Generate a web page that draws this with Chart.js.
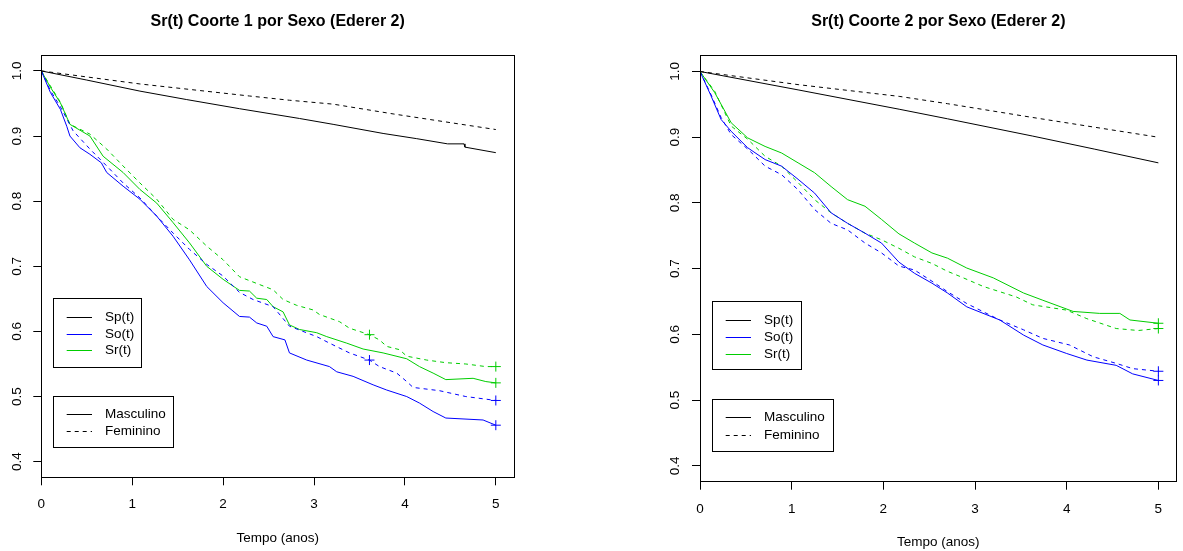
<!DOCTYPE html>
<html><head><meta charset="utf-8">
<script src="https://cdn.jsdelivr.net/npm/chart.js@4.4.1/dist/chart.umd.min.js"></script>
<style>
html,body{margin:0;padding:0;background:#fff;width:1183px;height:551px;overflow:hidden}
canvas{position:absolute;top:0}
</style></head>
<body>
<canvas id="c1" width="590" height="551" style="left:0px"></canvas>
<canvas id="c2" width="593" height="551" style="left:590px"></canvas>
<script>
// ---------- text ----------
const titles = ['Sr(t) Coorte 1 por Sexo (Ederer 2)', 'Sr(t) Coorte 2 por Sexo (Ederer 2)'];
const xTitle = 'Tempo (anos)';
const xTicks = [0, 1, 2, 3, 4, 5];
const yTicks = [0.4, 0.5, 0.6, 0.7, 0.8, 0.9, 1.0];
const legendCurves = ['Sp(t)', 'So(t)', 'Sr(t)'];
const legendSexo = ['Masculino', 'Feminino'];

// ---------- Coorte 1 ----------
const t1SpM = [0, 0.5, 1.085, 1.6, 2.18, 2.84, 3.21, 3.76, 4.13, 4.47, 4.65, 4.66, 5];
const v1SpM = [1, 0.986, 0.969, 0.956, 0.942, 0.927, 0.918, 0.904, 0.896, 0.888, 0.888, 0.883, 0.8745];
const t1SpF = [0, 1.085, 2.29, 2.73, 3.21, 3.87, 4.67, 5];
const v1SpF = [1, 0.98, 0.9615, 0.955, 0.949, 0.934, 0.917, 0.91];
const t1SoM = [0, 0.1, 0.21, 0.28, 0.315, 0.425, 0.535, 0.66, 0.72, 0.90, 1.085, 1.27, 1.45, 1.63, 1.82, 2.0, 2.18, 2.29, 2.37, 2.48, 2.55, 2.68, 2.73, 2.92, 3.17, 3.25, 3.43, 3.65, 3.80, 4.02, 4.16, 4.31, 4.45, 4.86, 5.0];
const v1SoM = [1, 0.967, 0.941, 0.915, 0.90, 0.882, 0.872, 0.859, 0.844, 0.823, 0.803, 0.777, 0.746, 0.71, 0.669, 0.644, 0.623, 0.622, 0.613, 0.608, 0.592, 0.587, 0.567, 0.556, 0.546, 0.538, 0.531, 0.518, 0.510, 0.50, 0.49, 0.477, 0.467, 0.464, 0.456];
const t1SoF = [0, 0.1, 0.21, 0.35, 0.535, 0.72, 0.90, 1.085, 1.27, 1.45, 1.63, 1.82, 2.0, 2.18, 2.33, 2.55, 2.73, 3.03, 3.17, 3.39, 3.61, 3.72, 3.91, 4.02, 4.09, 4.38, 4.67, 5.0];
const v1SoF = [1, 0.97, 0.945, 0.908, 0.880, 0.854, 0.828, 0.805, 0.777, 0.751, 0.726, 0.703, 0.685, 0.66, 0.649, 0.638, 0.608, 0.592, 0.582, 0.567, 0.556, 0.546, 0.536, 0.523, 0.514, 0.509, 0.50, 0.494];
const t1SrM = [0, 0.1, 0.21, 0.315, 0.535, 0.68, 0.90, 1.085, 1.27, 1.45, 1.63, 1.82, 2.0, 2.18, 2.29, 2.37, 2.48, 2.55, 2.66, 2.73, 2.84, 3.03, 3.14, 3.36, 3.54, 3.76, 4.02, 4.16, 4.31, 4.45, 4.75, 4.89, 5.0];
const v1SrM = [1, 0.975, 0.951, 0.918, 0.90, 0.869, 0.844, 0.818, 0.797, 0.767, 0.736, 0.70, 0.68, 0.663, 0.662, 0.651, 0.649, 0.638, 0.630, 0.610, 0.603, 0.598, 0.592, 0.582, 0.573, 0.567, 0.558, 0.546, 0.536, 0.526, 0.528, 0.523, 0.521];
const t1SrF = [0, 0.1, 0.21, 0.315, 0.535, 0.72, 0.90, 1.085, 1.27, 1.45, 1.63, 1.82, 2.0, 2.18, 2.40, 2.55, 2.66, 2.81, 2.99, 3.06, 3.28, 3.39, 3.61, 3.72, 3.80, 3.94, 4.02, 4.24, 4.45, 4.67, 4.89, 5.0];
const v1SrF = [1, 0.977, 0.952, 0.918, 0.903, 0.88, 0.854, 0.828, 0.803, 0.772, 0.756, 0.731, 0.71, 0.684, 0.672, 0.664, 0.649, 0.64, 0.633, 0.626, 0.615, 0.605, 0.595, 0.587, 0.577, 0.572, 0.562, 0.556, 0.552, 0.55, 0.546, 0.546];
// censoring marks (+)
const c1SoMt = [5.0], c1SoMv = [0.456];
const c1SoFt = [3.61, 5.0], c1SoFv = [0.556, 0.494];
const c1SrMt = [5.0], c1SrMv = [0.521];
const c1SrFt = [3.61, 5.0], c1SrFv = [0.595, 0.546];

// ---------- Coorte 2 ----------
const t2SpM = [0, 1.07, 2.18, 2.70, 3.63, 4.3, 5];
const v2SpM = [1, 0.972, 0.9424, 0.928, 0.9017, 0.882, 0.861];
const t2SpF = [0, 1.07, 2.18, 2.70, 3.63, 5];
const v2SpF = [1, 0.98, 0.962, 0.951, 0.93, 0.90];
const t2SoM = [0, 0.12, 0.23, 0.34, 0.52, 0.71, 0.89, 1.07, 1.25, 1.43, 1.61, 1.80, 1.98, 2.17, 2.34, 2.53, 2.70, 2.91, 3.27, 3.53, 3.74, 4.0, 4.22, 4.54, 4.72, 5.0];
const v2SoM = [1, 0.963, 0.927, 0.909, 0.884, 0.866, 0.856, 0.836, 0.815, 0.785, 0.769, 0.754, 0.739, 0.71, 0.693, 0.678, 0.663, 0.642, 0.622, 0.599, 0.584, 0.571, 0.561, 0.553, 0.540, 0.530];
const t2SoF = [0, 0.12, 0.23, 0.34, 0.52, 0.58, 0.71, 0.89, 1.07, 1.25, 1.43, 1.61, 1.80, 1.98, 2.17, 2.34, 2.53, 2.70, 2.91, 3.27, 3.53, 3.74, 4.03, 4.29, 4.54, 4.72, 5.0];
const v2SoF = [1, 0.965, 0.93, 0.904, 0.882, 0.874, 0.856, 0.843, 0.820, 0.79, 0.769, 0.759, 0.739, 0.724, 0.704, 0.698, 0.681, 0.665, 0.647, 0.622, 0.607, 0.594, 0.584, 0.566, 0.556, 0.548, 0.544];
const t2SrM = [0, 0.16, 0.34, 0.52, 0.71, 0.89, 1.07, 1.25, 1.43, 1.61, 1.80, 1.98, 2.17, 2.34, 2.53, 2.70, 2.91, 3.20, 3.53, 3.74, 4.07, 4.36, 4.58, 4.69, 5.0];
const v2SrM = [1, 0.968, 0.922, 0.899, 0.886, 0.876, 0.861, 0.846, 0.825, 0.805, 0.795, 0.775, 0.753, 0.739, 0.724, 0.716, 0.701, 0.686, 0.663, 0.652, 0.635, 0.632, 0.632, 0.622, 0.617];
const t2SrF = [0, 0.16, 0.34, 0.52, 0.71, 0.89, 1.07, 1.25, 1.43, 1.61, 1.80, 1.98, 2.17, 2.34, 2.53, 2.70, 2.84, 3.09, 3.45, 3.63, 4.0, 4.22, 4.54, 4.78, 5.0];
const v2SrF = [1, 0.97, 0.917, 0.897, 0.871, 0.856, 0.831, 0.805, 0.785, 0.769, 0.754, 0.744, 0.731, 0.718, 0.708, 0.696, 0.688, 0.673, 0.657, 0.645, 0.637, 0.624, 0.609, 0.606, 0.609];
const c2SoMt = [5.0], c2SoMv = [0.530];
const c2SoFt = [5.0], c2SoFv = [0.544];
const c2SrMt = [5.0], c2SrMv = [0.617];
const c2SrFt = [5.0], c2SrFv = [0.609];

// ---------- styling ----------
const FONT = '"Liberation Sans", Arial, sans-serif';
const BLACK = '#000000', BLUE = '#0000FF', GREEN = '#00CD00';
const curveColors = [BLACK, BLUE, GREEN];
const DASH = [4, 4];
Chart.defaults.font.family = FONT;
Chart.defaults.color = '#000';

function pts(t, v) { return t.map((x, i) => ({ x: x, y: v[i] })); }
function lineDs(label, t, v, color, dashed) {
  return { label, data: pts(t, v), borderColor: color, borderWidth: 1, borderDash: dashed ? DASH : [],
    pointRadius: 0, fill: false, tension: 0 };
}
function censDs(t, v, color) {
  return { label: 'cens', data: pts(t, v), borderColor: color, backgroundColor: color, borderWidth: 1,
    showLine: false, pointStyle: 'cross', pointRadius: 5, pointHoverRadius: 5 };
}

const framePlugin = {
  id: 'rframe',
  afterDraw(chart) {
    const { ctx, chartArea: a } = chart;
    const al = p => Math.round(p - 0.5) + 0.5;
    ctx.save();
    ctx.strokeStyle = '#000'; ctx.lineWidth = 1; ctx.setLineDash([]);
    const l = al(a.left), r = al(a.right), t = al(a.top), b = al(a.bottom);
    ctx.strokeRect(l, t, r - l, b - t);
    // R-style legends
    const L = chart.options.plugins.rlegend;
    ctx.font = '13.5px ' + FONT;
    ctx.textBaseline = 'middle'; ctx.textAlign = 'left';
    L.boxes.forEach(bx => {
      ctx.fillStyle = '#fff';
      ctx.fillRect(bx.x, bx.y, bx.w, bx.h);
      ctx.strokeStyle = '#000'; ctx.lineWidth = 1; ctx.setLineDash([]);
      ctx.strokeRect(al(bx.x), al(bx.y), Math.round(bx.w), Math.round(bx.h));
      bx.items.forEach((it, i) => {
        const y = bx.rows[i];
        ctx.strokeStyle = it.color; ctx.setLineDash(it.dash ? DASH : []);
        ctx.beginPath(); ctx.moveTo(bx.lx1, al(y)); ctx.lineTo(bx.lx2, al(y)); ctx.stroke();
        ctx.setLineDash([]);
        ctx.fillStyle = '#000';
        ctx.fillText(it.text, bx.tx, y);
      });
    });
    ctx.restore();
  }
};

function makeChart(id, cfg) {
  return new Chart(document.getElementById(id), {
    type: 'line',
    data: { datasets: cfg.datasets },
    options: {
      responsive: false, animation: false, devicePixelRatio: 1,
      layout: { padding: cfg.pad },
      plugins: {
        legend: { display: false }, tooltip: { enabled: false },
        title: { display: true, text: cfg.title, fullSize: false, color: '#000',
          font: { family: FONT, size: 16, weight: 'bold' }, padding: cfg.titlePad },
        rlegend: { boxes: cfg.legend }
      },
      scales: {
        x: { type: 'linear', min: 0, max: 5.2,
          afterBuildTicks: s => { s.ticks = xTicks.map(v => ({ value: v })); },
          afterFit: s => { s.height = cfg.xh; },
          border: { display: false },
          grid: { display: true, drawOnChartArea: false, drawTicks: true, tickLength: 8, color: '#000', lineWidth: 1 },
          ticks: { color: '#000', font: { size: 13.5 }, padding: cfg.xtp, maxRotation: 0, minRotation: 0,
            callback: v => String(v) },
          title: { display: true, text: xTitle, color: '#000', font: { size: 13.5 }, padding: { top: 0, bottom: cfg.xtitlePad } }
        },
        y: { type: 'linear', min: 0.376, max: 1.024,
          afterBuildTicks: s => { s.ticks = yTicks.map(v => ({ value: v })); },
          afterFit: s => { s.width = cfg.yw; },
          border: { display: false },
          grid: { display: true, drawOnChartArea: false, drawTicks: true, tickLength: 8, color: '#000', lineWidth: 1 },
          ticks: { color: '#000', font: { size: 13.5 }, padding: 7, minRotation: 90, maxRotation: 90, crossAlign: 'center',
            callback: v => Number(v).toFixed(1) }
        }
      }
    },
    plugins: [framePlugin]
  });
}

function legendBoxes(x, y1, w1, h1, rows1, y2, w2, h2, rows2, lx1, lx2, tx) {
  return [
    { x, y: y1, w: w1, h: h1, rows: rows1, lx1, lx2, tx,
      items: legendCurves.map((s, i) => ({ text: s, color: curveColors[i], dash: false })) },
    { x, y: y2, w: w2, h: h2, rows: rows2, lx1, lx2, tx,
      items: legendSexo.map((s, i) => ({ text: s, color: BLACK, dash: i === 1 })) }
  ];
}

makeChart('c1', {
  title: titles[0],
  pad: { left: 0, right: 76, top: 0, bottom: 0 },
  titlePad: { top: 11.6, bottom: 24.5 },
  yw: 41.3, xh: 73.7, xtp: 10.6, xtitlePad: 4.6,
  legend: legendBoxes(53.3, 298.3, 88, 68.7, [317.7, 334, 350.3], 396.3, 120, 51, [414.3, 431.7], 66.7, 92, 105),
  datasets: [
    lineDs('Sp M', t1SpM, v1SpM, BLACK, false),
    lineDs('Sp F', t1SpF, v1SpF, BLACK, true),
    lineDs('So M', t1SoM, v1SoM, BLUE, false),
    lineDs('So F', t1SoF, v1SoF, BLUE, true),
    lineDs('Sr M', t1SrM, v1SrM, GREEN, false),
    lineDs('Sr F', t1SrF, v1SrF, GREEN, true),
    censDs(c1SoMt, c1SoMv, BLUE), censDs(c1SoFt, c1SoFv, BLUE),
    censDs(c1SrMt, c1SrMv, GREEN), censDs(c1SrFt, c1SrFv, GREEN)
  ]
});

makeChart('c2', {
  title: titles[1],
  pad: { left: 69, right: 6.3, top: 0, bottom: 0 },
  titlePad: { top: 11.6, bottom: 24.9 },
  yw: 41, xh: 69.3, xtp: 11.2, xtitlePad: 0.6,
  legend: legendBoxes(122.3, 301.7, 88.7, 68.3, [320.7, 337.3, 354], 399.3, 121, 52.4, [417.7, 435.3], 135.7, 161, 174),
  datasets: [
    lineDs('Sp M', t2SpM, v2SpM, BLACK, false),
    lineDs('Sp F', t2SpF, v2SpF, BLACK, true),
    lineDs('So M', t2SoM, v2SoM, BLUE, false),
    lineDs('So F', t2SoF, v2SoF, BLUE, true),
    lineDs('Sr M', t2SrM, v2SrM, GREEN, false),
    lineDs('Sr F', t2SrF, v2SrF, GREEN, true),
    censDs(c2SoMt, c2SoMv, BLUE), censDs(c2SoFt, c2SoFv, BLUE),
    censDs(c2SrMt, c2SrMv, GREEN), censDs(c2SrFt, c2SrFv, GREEN)
  ]
});
</script>
</body></html>
